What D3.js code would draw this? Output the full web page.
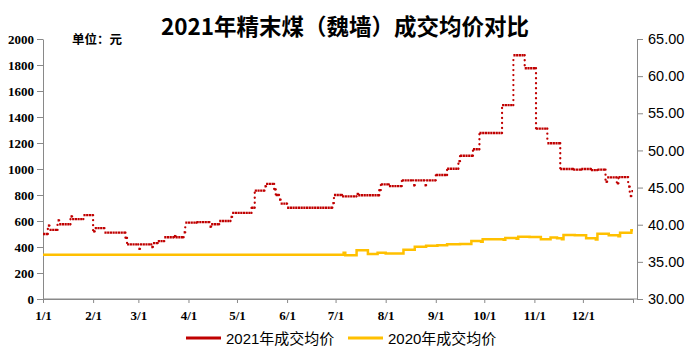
<!DOCTYPE html>
<html>
<head>
<meta charset="utf-8">
<script src="https://cdn.jsdelivr.net/npm/d3@7"></script>
<style>
body { margin: 0; background: #fff; }
</style>
</head>
<body>
<svg width="693" height="364"></svg>
<script>
// 2021 price: day index from 1/1 where the price changes, and the price
var days2021 = [0,3,4,9,10,17,18,25,31,32,38,51,52,59,60,67,68,71,75,81,82,87,88,95,103,104,109,116,117,129,131,137,138,143,144,146,147,151,179,180,185,194,195,208,209,214,222,229,230,236,237,243,250,257,258,266,270,284,291,298,305,312,320,328,333,339,343,348,349,355,356,362,363,364,365]
var vals2021 = [500,565,531,605,575,635,615,645,520,545,510,470,420,385,420,400,430,445,475,484,475,513,587,592,556,575,600,631,662,702,833,867,885,843,800,764,733,702,738,800,790,808,798,838,882,869,913,875,913,875,913,954,1002,1060,1102,1152,1277,1492,1875,1775,1310,1198,1000,995,1000,992,995,902,936,890,938,864,792,830,830]

// 2020 price
var days2020 = [0,186,187,194,201,207,212,223,230,237,244,250,258,265,271,272,285,286,293,294,301,308,314,318,321,322,329,336,342,343,350,356,357,364,365]
var vals2020 = [341,356,336,375,346,356,350,379,402,410,413,421,424,446,440,460,455,469,464,479,477,459,474,468,460,492,490,467,458,502,490,482,510,529,529]

var leftTicks = [0,200,400,600,800,1000,1200,1400,1600,1800,2000]
var rightTicks = [30,35,40,45,50,55,60,65]
var seriesNames = ["2021年成交均价", "2020年成交均价"]
var colors = ["#c00000", "#ffc000"]

var t0 = new Date(2021, 0, 1)
function toDate(d) { return d3.timeDay.offset(t0, d) }

var pts2021 = days2021.map(function(d, i) { return {date: toDate(d), v: vals2021[i]} })
var pts2020 = days2020.map(function(d, i) { return {date: toDate(d), v: vals2020[i]} })

var plotL = 43, plotR = 637, plotT = 39, plotB = 299

var x = d3.scaleTime().domain([t0, new Date(2022, 0, 1)]).range([plotL, 633])
var yL = d3.scaleLinear().domain([0, 2000]).range([plotB, plotT])
var yR = d3.scaleLinear().domain([30, 65]).range([plotB, plotT])

var svg = d3.select("svg")
var axisColor = "#898989"
var serif = "'Liberation Serif','Noto Serif CJK SC',serif"
var sans = "'Liberation Sans','Noto Sans CJK SC',sans-serif"

// title
svg.append("text")
  .attr("x", 345).attr("y", 35)
  .attr("text-anchor", "middle")
  .style("font-family", "'Noto Sans CJK SC',sans-serif")
  .style("font-weight", "bold")
  .style("font-size", "22.5px")
  .text("2021年精末煤（魏墙）成交均价对比")

svg.append("text")
  .attr("x", 72).attr("y", 44)
  .style("font-family", "'Noto Sans CJK SC',sans-serif")
  .style("font-weight", "bold")
  .style("font-size", "12.5px")
  .text("单位：元")

// axes
var gL = svg.append("g")
  .attr("transform", "translate(" + plotL + ",0)")
  .call(d3.axisLeft(yL).tickValues(leftTicks).tickFormat(d3.format("d")).tickSize(6).tickSizeOuter(0).tickPadding(3))
gL.selectAll("text").style("font-family", serif).style("font-weight", "bold").style("font-size", "13px").attr("fill", "#000")

var gR = svg.append("g")
  .attr("transform", "translate(" + plotR + ",0)")
  .call(d3.axisRight(yR).tickValues(rightTicks).tickFormat(d3.format(".2f")).tickSize(6).tickSizeOuter(0).tickPadding(5))
gR.selectAll("text").style("font-family", sans).style("font-size", "14.5px").attr("fill", "#000")

var monthTicks = d3.timeMonth.range(t0, new Date(2022, 0, 2))
var gB = svg.append("g")
  .attr("transform", "translate(0," + plotB + ")")
  .call(d3.axisBottom(x).tickValues(monthTicks)
    .tickFormat(function(d) { return d.getFullYear() == 2022 ? "" : (d.getMonth() + 1) + "/1" })
    .tickSize(4).tickSizeOuter(0).tickPadding(8))
gB.selectAll("text").style("font-family", serif).style("font-weight", "bold").style("font-size", "13px").attr("fill", "#000")

svg.append("line")
  .attr("x1", plotL).attr("x2", plotR).attr("y1", plotB).attr("y2", plotB)
  .attr("stroke", axisColor)

svg.selectAll(".domain, .tick line").attr("stroke", axisColor)

// 2020 line: solid step line
var stepLine = d3.line()
  .x(function(d) { return x(d.date) })
  .y(function(d) { return yL(d.v) })
  .curve(d3.curveStepAfter)

svg.append("path")
  .datum(pts2020)
  .attr("d", stepLine)
  .attr("fill", "none")
  .attr("stroke", colors[1])
  .attr("stroke-width", 2.5)

// 2021 line: flat runs dense, jumps dotted
var segs = d3.pairs(pts2021)
svg.append("g").selectAll("line").data(segs).enter().append("line")
  .attr("x1", function(d) { return x(d[0].date) })
  .attr("x2", function(d) { return x(d[1].date) })
  .attr("y1", function(d) { return yL(d[0].v) })
  .attr("y2", function(d) { return yL(d[0].v) })
  .attr("stroke", colors[0])
  .attr("stroke-width", 2.3)
  .attr("stroke-dasharray", "2.2,0.5")

svg.append("g").selectAll("line").data(segs.filter(function(d) { return d[0].v != d[1].v })).enter().append("line")
  .attr("x1", function(d) { return x(d[1].date) })
  .attr("x2", function(d) { return x(d[1].date) })
  .attr("y1", function(d) { return yL(d[0].v) })
  .attr("y2", function(d) { return yL(d[1].v) })
  .attr("stroke", colors[0])
  .attr("stroke-width", 2.3)
  .attr("stroke-linecap", "round")
  .attr("stroke-dasharray", "0,5")

// legend
var legendX = [186, 348]
var leg = svg.append("g").selectAll("g").data(seriesNames).enter().append("g")
  .attr("transform", function(d, i) { return "translate(" + legendX[i] + ",338)" })
leg.append("line")
  .attr("x1", 0).attr("x2", 35)
  .attr("stroke", function(d, i) { return colors[i] })
  .attr("stroke-width", 3)
leg.append("text")
  .attr("x", 40).attr("y", 5.5)
  .style("font-family", sans)
  .style("font-size", "15px")
  .text(function(d) { return d })
</script>
</body>
</html>
